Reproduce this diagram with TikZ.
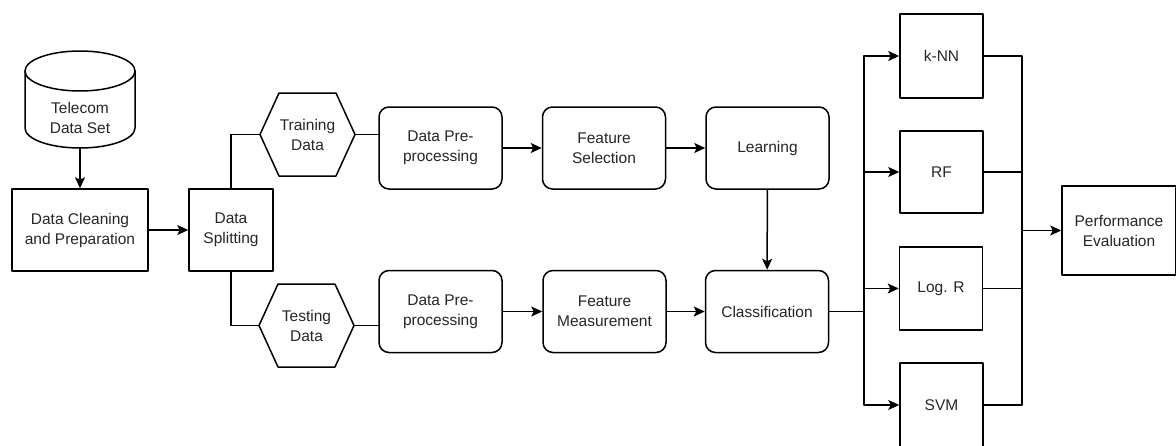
\documentclass[tikz,border=0pt]{standalone}
\usepackage{fontspec}
\setmainfont{Liberation Sans}
\usepackage{tikz}
\usetikzlibrary{arrows.meta,calc,positioning}
\newcommand{\flowlw}{1.5pt}
\tikzset{
  flow line/.style={line width=\flowlw},
  flow arrow/.style={line width=\flowlw,-{Stealth[length=11pt,width=10pt,inset=2.5pt]}},
  flow text/.style={font=\fontsize{15.5}{20}\selectfont,text=black!85,align=center},
  step box/.style={flow text,draw,line width=\flowlw,fill=white,inner sep=2pt,
    minimum width=123pt,minimum height=82pt},
  round box/.style={step box,rounded corners=10pt},
  model box/.style={step box,minimum width=83pt,minimum height=83pt},
  hex box/.style={flow text,inner sep=0pt,outer sep=0pt,minimum width=95pt,minimum height=83pt}
}
\newcommand{\HexOutline}[1]{\draw[flow line,fill=white] (#1.west)
  -- ($(#1.north west)+(19,0)$) -- ($(#1.north east)+(-19,0)$) -- (#1.east)
  -- ($(#1.south east)+(-19,0)$) -- ($(#1.south west)+(19,0)$) -- cycle;}

\begin{document}
\begin{tikzpicture}[x=1pt,y=-1pt,line cap=round,line join=round]
  \useasboundingbox (0,0) rectangle (1176,445);
  \clip (0,0) rectangle (1176,445);

  % data set cylinder
  \draw[flow line,fill=white] (25,71) -- (25,128)
    arc[start angle=180,end angle=360,x radius=55pt,y radius=20pt]
    -- (135,71) arc[start angle=0,end angle=180,x radius=55pt,y radius=20pt];
  \draw[flow line] (25,71) arc[start angle=180,end angle=360,x radius=55pt,y radius=20pt];
  \node[flow text] (dataset) at (80,118) {Telecom\\Data Set};
  \coordinate (dsbase) at (80,148);

  \node[step box,minimum width=136pt] (cleaning) at (80,230) {Data Cleaning\\and Preparation};
  \node[step box,minimum width=84pt] (splitting) at (231,230) {Data\\Splitting};

  \node[hex box] (training) at (307.5,134.5) {};
  \node[hex box] (testing)  at (306.5,325.5) {};
  \HexOutline{training}
  \HexOutline{testing}
  \node[flow text] at (training) {Training\\Data};
  \node[flow text] at (testing) {Testing\\Data};

  \node[round box] (preTop)    at (440.5,148) {Data Pre-\\processing};
  \node[round box] (selection) at (604,148)   {Feature\\Selection};
  \node[round box] (learning)  at (767.5,148) {Learning};
  \node[round box] (preBot)    at (440.5,311.5) {Data Pre-\\processing};
  \node[round box] (measure)   at (604.5,311.5) {Feature\\Measurement};
  \node[round box] (classify)  at (767,311.5)   {Classification};

  \node[model box,minimum height=84pt] (knn)  at (941.5,56)  {k-NN};
  \node[model box,minimum height=82pt] (rf)   at (941.5,172) {RF};
  \node[model box] (logr) at (941,288.5) {Log. R};
  \node[model box,minimum height=84pt] (svm)  at (941.5,405) {SVM};

  \node[step box,minimum width=114pt,minimum height=89pt] (perf) at (1119,230.5) {Performance\\Evaluation};

  \coordinate (busL) at (864,311.5);
  \coordinate (busR) at (1022,230.5);

  \draw[flow arrow] (dsbase) -- (cleaning);
  \draw[flow arrow] (cleaning) -- (splitting);
  \draw[flow line] (splitting.north) |- (training.west);
  \draw[flow line] (splitting.south) |- (testing.west);
  \draw[flow line] (training.east) -- (training.east -| preTop.west);
  \draw[flow line] (testing.east) -- (testing.east -| preBot.west);
  \draw[flow arrow] (preTop) -- (selection);
  \draw[flow arrow] (selection) -- (learning);
  \draw[flow arrow] (learning) -- (classify);
  \draw[flow arrow] (preBot) -- (measure);
  \draw[flow arrow] (measure) -- (classify);
  \draw[flow line] (classify) -- (busL);

  \foreach \m in {knn,rf,logr,svm} {
    \draw[flow arrow] (busL) |- (\m.west);
    \draw[flow line] (\m.east) -| (busR);
  }
  \draw[flow arrow] (busR) -- (perf);
\end{tikzpicture}
\end{document}
